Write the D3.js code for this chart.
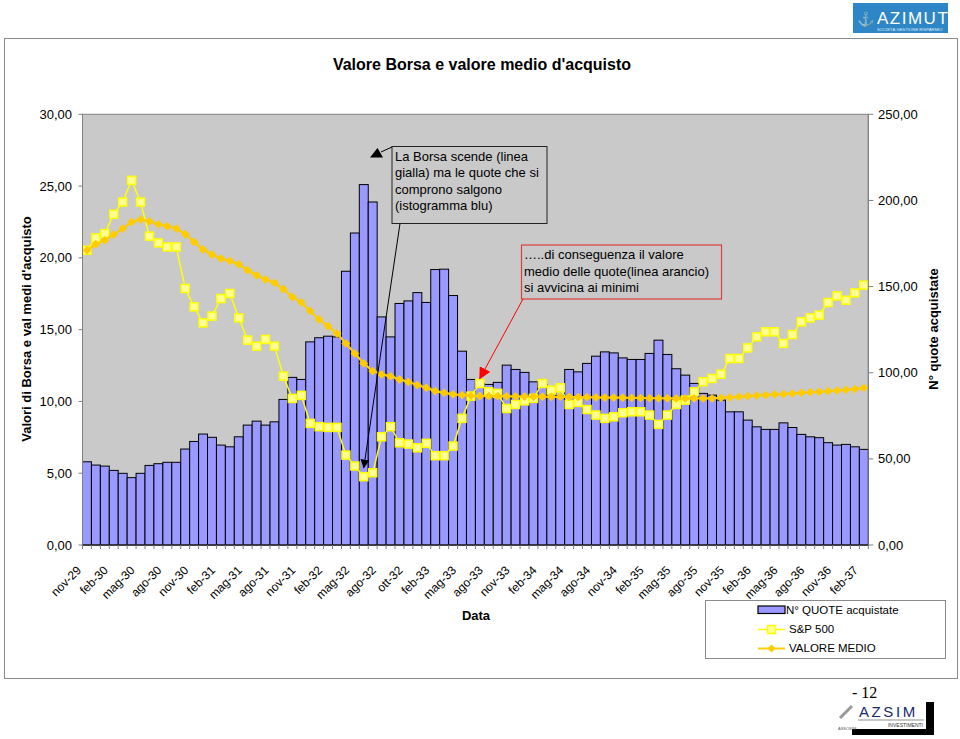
<!DOCTYPE html>
<html><head><meta charset="utf-8">
<script src="https://cdn.jsdelivr.net/npm/d3@7"></script>
<style>
body{margin:0;background:#fff;}
svg{display:block;font-family:"Liberation Sans",Arial,Helvetica,sans-serif;}
</style>
</head><body>
<svg id="chart" width="960" height="739"></svg>
<script>
// ---------- DATA ----------
const categories = ["nov-29","dic-29","gen-30","feb-30","mar-30","apr-30","mag-30","giu-30","lug-30","ago-30","set-30","ott-30",
"nov-30","dic-30","gen-31","feb-31","mar-31","apr-31","mag-31","giu-31","lug-31","ago-31","set-31","ott-31",
"nov-31","dic-31","gen-32","feb-32","mar-32","apr-32","mag-32","giu-32","lug-32","ago-32","set-32","ott-32",
"ott-32b","nov-32","dic-32","feb-33","mar-33","apr-33","mag-33","giu-33","lug-33","ago-33","set-33","ott-33",
"nov-33","dic-33","gen-34","feb-34","mar-34","apr-34","mag-34","giu-34","lug-34","ago-34","set-34","ott-34",
"nov-34","dic-34","gen-35","feb-35","mar-35","apr-35","mag-35","giu-35","lug-35","ago-35","set-35","ott-35",
"nov-35","dic-35","gen-36","feb-36","mar-36","apr-36","mag-36","giu-36","lug-36","ago-36","set-36","ott-36",
"nov-36","dic-36","gen-37","feb-37"];

const tickLabels = ["nov-29","feb-30","mag-30","ago-30","nov-30","feb-31","mag-31","ago-31","nov-31","feb-32",
"mag-32","ago-32","ott-32","feb-33","mag-33","ago-33","nov-33","feb-34","mag-34","ago-34","nov-34","feb-35",
"mag-35","ago-35","nov-35","feb-36","mag-36","ago-36","nov-36","feb-37"];

// N° QUOTE acquistate (right axis)
const quoteAcquistate = [48.3,46.4,45.8,43.3,41.6,39.1,41.6,46.2,47.2,48.0,48.0,55.7,
60.1,64.4,62.5,58.0,57.0,62.8,69.6,71.9,69.6,71.5,84.5,97.3,
96.1,117.9,120.3,121.2,120.8,158.9,181.1,209.2,199.1,132.4,120.8,140.2,
141.7,146.5,140.8,159.9,160.1,144.8,112.5,96.1,93.8,93.2,94.4,104.4,
101.9,100.2,94.7,93.2,91.5,86.6,101.9,100.5,105.4,109.6,112.1,111.5,
108.6,107.7,107.7,111.2,118.9,110.6,102.3,98.6,93.8,88.0,87.0,84.1,
77.3,77.3,72.5,68.6,67.1,67.1,70.9,68.2,64.2,62.8,62.3,59.4,
58.0,58.4,57.0,55.5];

// S&P 500 (left axis)
const sp500 = [20.53,21.39,21.69,23.04,23.89,25.40,23.89,21.51,21.04,20.76,20.76,17.87,
16.59,15.47,15.94,17.17,17.52,15.82,14.27,13.85,14.32,13.85,11.76,10.21,
10.42,8.47,8.24,8.19,8.19,6.26,5.50,4.76,5.03,7.54,8.24,7.12,
7.03,6.77,7.08,6.22,6.22,6.89,8.82,10.37,11.25,10.67,10.56,9.51,
9.79,10.04,10.21,11.25,10.79,10.95,9.79,9.93,9.44,9.05,8.82,8.93,
9.21,9.28,9.28,9.05,8.40,9.05,9.79,10.09,10.67,11.37,11.60,11.90,
12.99,12.99,13.73,14.50,14.85,14.85,14.04,14.66,15.54,15.82,16.01,16.89,
17.35,17.05,17.56,18.10];

// VALORE MEDIO (left axis)
const valoreMedio = [20.53,20.95,21.23,21.62,22.04,22.50,22.67,22.55,22.34,22.20,22.04,21.65,
21.11,20.58,20.23,19.95,19.79,19.56,19.14,18.79,18.49,18.26,17.82,17.28,
16.90,16.30,15.71,15.24,14.73,14.04,13.34,12.65,12.11,11.88,11.76,11.53,
11.35,11.14,10.95,10.72,10.60,10.49,10.44,10.40,10.38,10.37,10.37,10.36,
10.35,10.34,10.33,10.33,10.32,10.32,10.31,10.30,10.29,10.28,10.27,10.27,
10.26,10.25,10.24,10.23,10.22,10.22,10.21,10.21,10.21,10.21,10.21,10.25,
10.28,10.32,10.37,10.41,10.44,10.49,10.51,10.56,10.60,10.65,10.67,10.72,
10.76,10.81,10.86,10.95];

const leftTicks = [0,5,10,15,20,25,30];
const rightTicks = [0,50,100,150,200,250];
const legendLabels = ["N° QUOTE acquistate","S&P 500","VALORE MEDIO"];

// ---------- CHART ----------
const svg = d3.select("#chart");
const P = {left:82.5, right:868.3, top:114.3, bottom:545};
const idx = d3.range(categories.length);
const x = d3.scaleBand().domain(idx).range([P.left, P.right]).padding(0);
const cx = i => x(i) + x.bandwidth()/2;
const yL = d3.scaleLinear().domain([0,30]).range([P.bottom, P.top]);
const yR = d3.scaleLinear().domain([0,250]).range([P.bottom, P.top]);
const fmt = v => d3.format(".2f")(v).replace(".", ",");

const C = {bar:"#9999ff", sp:"#ffff00", spFill:"#ffff99", vm:"#ffcc00", plot:"#c9c9c9"};

svg.append("rect").attr("width",960).attr("height",739).attr("fill","#fff");

// outer frame
svg.append("rect").attr("x",4.5).attr("y",38.5).attr("width",953).attr("height",640)
  .attr("fill","none").attr("stroke","#8a8a8a").attr("stroke-width",1);

// logo top right
const lg = svg.append("g");
lg.append("rect").attr("x",853).attr("y",3).attr("width",95).attr("height",30).attr("fill","#2f86c6");
lg.append("text").attr("x",877).attr("y",24).attr("fill","#fff").attr("font-size",17)
  .attr("letter-spacing",1.5).text("AZIMUT");
lg.append("text").attr("x",877).attr("y",30.5).attr("fill","#dfefff").attr("font-size",4.2)
  .text("SOCIETÀ GESTIONE RISPARMIO");
lg.append("text").attr("x",857).attr("y",24).attr("fill","#fff").attr("font-size",14).text("⚓");

// title
svg.append("text").attr("x",482).attr("y",70).attr("text-anchor","middle")
  .attr("font-size",16).attr("font-weight","bold").text("Valore Borsa e valore medio d'acquisto");

// plot area
svg.append("rect").attr("x",P.left).attr("y",P.top).attr("width",P.right-P.left).attr("height",P.bottom-P.top)
  .attr("fill",C.plot).attr("stroke","#808080").attr("stroke-width",1);

// bars
svg.append("g").selectAll("rect").data(quoteAcquistate).join("rect")
  .attr("x",(d,i)=>x(i)).attr("width",x.bandwidth())
  .attr("y",d=>yR(d)).attr("height",d=>P.bottom-yR(d))
  .attr("fill",C.bar).attr("stroke","#000").attr("stroke-width",1);

// S&P line
const lineL = d3.line().x((d,i)=>cx(i)).y(d=>yL(d));
svg.append("path").datum(sp500).attr("d",lineL).attr("fill","none")
  .attr("stroke",C.sp).attr("stroke-width",1.5);
svg.append("g").selectAll("rect").data(sp500).join("rect")
  .attr("x",(d,i)=>cx(i)-4).attr("y",d=>yL(d)-4).attr("width",8).attr("height",8)
  .attr("fill",C.spFill).attr("stroke",C.sp).attr("stroke-width",1.5);

// Valore medio line
svg.append("path").datum(valoreMedio).attr("d",lineL).attr("fill","none")
  .attr("stroke",C.vm).attr("stroke-width",2.2);
const diamond = d3.symbol().type(d3.symbolDiamond2).size(40);
svg.append("g").selectAll("path").data(valoreMedio).join("path")
  .attr("transform",(d,i)=>`translate(${cx(i)},${yL(d)})`).attr("d",diamond)
  .attr("fill",C.vm).attr("stroke",C.vm).attr("stroke-width",0.8);

// left axis
const gL = svg.append("g");
gL.append("line").attr("x1",P.left).attr("x2",P.left).attr("y1",P.top).attr("y2",P.bottom).attr("stroke","#808080");
gL.selectAll("line.t").data(leftTicks).join("line").attr("class","t")
  .attr("x1",P.left-4).attr("x2",P.left).attr("y1",d=>yL(d)).attr("y2",d=>yL(d)).attr("stroke","#808080");
gL.selectAll("text").data(leftTicks).join("text")
  .attr("x",72).attr("y",d=>yL(d)+4.5).attr("text-anchor","end").attr("font-size",13).text(fmt);

// right axis
const gR = svg.append("g");
gR.append("line").attr("x1",P.right).attr("x2",P.right).attr("y1",P.top).attr("y2",P.bottom).attr("stroke","#808080");
gR.selectAll("line.t").data(rightTicks).join("line").attr("class","t")
  .attr("x1",P.right).attr("x2",P.right+5).attr("y1",d=>yR(d)).attr("y2",d=>yR(d)).attr("stroke","#808080");
gR.selectAll("text").data(rightTicks).join("text")
  .attr("x",878).attr("y",d=>yR(d)+4.5).attr("text-anchor","start").attr("font-size",13).text(fmt);

// bottom axis
const gB = svg.append("g");
gB.append("line").attr("x1",P.left).attr("x2",P.right).attr("y1",P.bottom).attr("y2",P.bottom).attr("stroke","#222");
gB.selectAll("line.t").data(d3.range(categories.length+1)).join("line").attr("class","t")
  .attr("x1",i=>P.left+i*x.step()).attr("x2",i=>P.left+i*x.step())
  .attr("y1",P.bottom).attr("y2",P.bottom+4).attr("stroke","#808080");
gB.selectAll("text").data(tickLabels).join("text")
  .attr("transform",(d,k)=>`translate(${cx(k*3)-5},${571}) rotate(-45)`)
  .attr("text-anchor","end").attr("font-size",12).text(d=>d);

// axis titles
svg.append("text").attr("transform","translate(31,329) rotate(-90)").attr("text-anchor","middle")
  .attr("font-size",13).attr("font-weight","bold").text("Valori di Borsa e val medi d'acquisto");
svg.append("text").attr("transform","translate(938,329) rotate(-90)").attr("text-anchor","middle")
  .attr("font-size",13).attr("font-weight","bold").text("N° quote acquistate");
svg.append("text").attr("x",476).attr("y",620).attr("text-anchor","middle")
  .attr("font-size",13).attr("font-weight","bold").text("Data");

// legend
const leg = svg.append("g");
leg.append("rect").attr("x",705.5).attr("y",600.5).attr("width",240).attr("height",58)
  .attr("fill","#fff").attr("stroke","#8a8a8a");
leg.append("rect").attr("x",758).attr("y",606).attr("width",27).attr("height",7.5)
  .attr("fill",C.bar).attr("stroke","#000").attr("stroke-width",1.2);
leg.append("line").attr("x1",758).attr("x2",785).attr("y1",629.5).attr("y2",629.5).attr("stroke",C.sp).attr("stroke-width",1.5);
leg.append("rect").attr("x",767.5).attr("y",625.5).attr("width",8).attr("height",8)
  .attr("fill",C.spFill).attr("stroke",C.sp).attr("stroke-width",1.5);
leg.append("line").attr("x1",758).attr("x2",785).attr("y1",648.5).attr("y2",648.5).attr("stroke",C.vm).attr("stroke-width",2);
leg.append("path").attr("transform","translate(771.5,648.5)").attr("d",diamond).attr("fill",C.vm);
leg.selectAll("text").data(legendLabels).join("text")
  .attr("x",(d,i)=>i===0?786:789).attr("y",(d,i)=>614+i*19).attr("font-size",11.5).text(d=>d);

// annotations
const defs = svg.append("defs");
defs.append("marker").attr("id","ahBlack").attr("viewBox","0 0 10 10").attr("refX",9).attr("refY",5)
  .attr("markerWidth",9).attr("markerHeight",9).attr("markerUnits","userSpaceOnUse").attr("orient","auto")
  .append("path").attr("d","M0,0 L10,5 L0,10 Z").attr("fill","#000");
defs.append("marker").attr("id","ahRed").attr("viewBox","0 0 10 10").attr("refX",9).attr("refY",5)
  .attr("markerWidth",12).attr("markerHeight",12).attr("markerUnits","userSpaceOnUse").attr("orient","auto")
  .append("path").attr("d","M0,0 L10,5 L0,10 Z").attr("fill","#ff0000");

const a1 = svg.append("g");
a1.append("rect").attr("x",392).attr("y",146.5).attr("width",155).attr("height",77)
  .attr("fill","none").attr("stroke","#222").attr("stroke-width",1);
["La Borsa scende (linea","gialla) ma le quote che si","comprono salgono","(istogramma blu)"].forEach((t,i)=>{
  a1.append("text").attr("x",395).attr("y",161+i*16.3).attr("font-size",13).text(t);
});
a1.append("line").attr("x1",392).attr("y1",147).attr("x2",381).attr("y2",152).attr("stroke","#000");
a1.append("path").attr("d","M370,157.5 L383,157.5 L377.5,148 Z").attr("fill","#000");
a1.append("line").attr("x1",400).attr("y1",223.5).attr("x2",cx(31)).attr("y2",yL(sp500[31])-9)
  .attr("stroke","#000").attr("stroke-width",1).attr("marker-end","url(#ahBlack)");

const a2 = svg.append("g");
a2.append("rect").attr("x",521.5).attr("y",245).attr("width",200).attr("height",54)
  .attr("fill","none").attr("stroke","#e03c3c").attr("stroke-width",1.2);
["…..di conseguenza il valore","medio delle quote(linea arancio)","si avvicina ai minimi"].forEach((t,i)=>{
  a2.append("text").attr("x",524).attr("y",259+i*16.5).attr("font-size",13).text(t);
});
a2.append("line").attr("x1",523).attr("y1",299).attr("x2",cx(44)).attr("y2",yL(sp500[44])-5)
  .attr("stroke","#ff0000").attr("stroke-width",1).attr("marker-end","url(#ahRed)");

// page number & bottom logo
svg.append("text").attr("x",852).attr("y",698).attr("font-family","'Liberation Serif','Times New Roman',serif")
  .attr("font-size",16).text("- 12");
const bl = svg.append("g");
bl.append("rect").attr("x",926).attr("y",702).attr("width",8).attr("height",33).attr("fill","#000");
bl.append("rect").attr("x",852).attr("y",729).attr("width",82).attr("height",6).attr("fill","#000");
bl.append("text").attr("x",859).attr("y",717).attr("font-size",15).attr("fill","#1a2a6a")
  .attr("letter-spacing",2.6).text("AZSIM");
bl.append("line").attr("x1",858).attr("x2",924).attr("y1",720).attr("y2",720).attr("stroke","#444").attr("stroke-width",0.6);
bl.append("text").attr("x",923).attr("y",726.5).attr("text-anchor","end").attr("font-size",5).attr("fill","#333").text("INVESTIMENTI");
bl.append("line").attr("x1",840).attr("x2",852).attr("y1",718).attr("y2",706).attr("stroke","#999").attr("stroke-width",3);
bl.append("text").attr("x",838).attr("y",730).attr("font-size",4).attr("fill","#555").text("ASSOSIM");
</script>
</body></html>
